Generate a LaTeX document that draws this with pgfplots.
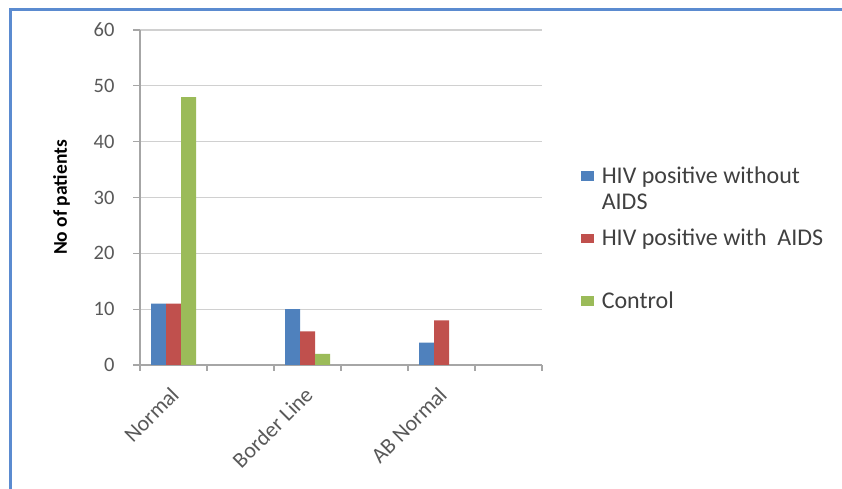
\documentclass[border=0pt]{standalone}
\usepackage{pgfplots}
\pgfplotsset{compat=1.18}
\usepackage{fontspec}
\setmainfont{Carlito}
\definecolor{sblue}{HTML}{4F81BD}
\definecolor{sred}{HTML}{C0504D}
\definecolor{sgreen}{HTML}{9BBB59}
\definecolor{frameblue}{HTML}{5B8BD0}
\definecolor{axisgray}{HTML}{A6A6A6}
\definecolor{gridgray}{HTML}{D0D0D0}
\definecolor{labgray}{HTML}{595959}
\definecolor{legtext}{HTML}{404040}
\pgfplotsset{sq legend/.style={legend image code/.code={%
  \path[fill=none, draw=none] (0pt,-31.25pt) rectangle (13pt,31.25pt);
  \fill[##1, draw=none] (0pt,2.5pt) rectangle (13pt,12pt);}}}
\begin{document}
\begin{tikzpicture}
\path[use as bounding box, fill=white] (0,0) rectangle (842pt,489pt);
\draw[line width=3pt, color=frameblue] (10pt,-3pt) -- (10pt,479pt) -- (845pt,479pt);
\begin{axis}[
  at={(140pt,124pt)}, anchor=south west,
  scale only axis, width=402pt, height=335pt,
  xmin=-0.5, xmax=5.5, ymin=0, ymax=60,
  ytick={0,10,...,60},
  xtick={0,2,4}, xticklabels={Normal,Border Line,AB Normal},
  minor xtick={-0.5,0.5,...,5.5},
  axis x line*=bottom, axis y line*=left,
  axis line style={draw=axisgray, line width=1.2pt},
  ymajorgrids, grid style={draw=gridgray, line width=1.2pt},
  major x tick style={draw=none},
  minor x tick style={draw=axisgray, line width=1.2pt},
  ytick style={draw=axisgray, line width=1.2pt},
  tick align=outside, major tick length=7pt, minor tick length=6pt,
  /pgf/number format/assume math mode=true,
  ticklabel style={text=labgray},
  yticklabel style={font=\fontsize{20.5}{22}\selectfont, xshift=-15pt},
  xticklabel style={font=\fontsize{22}{24}\selectfont, rotate=45, anchor=east, yshift=-14.5pt, xshift=-9pt},
  ylabel={\bfseries No of patients},
  ylabel style={font=\fontsize{19.5}{21}\selectfont, text=black, at={(axis description cs:-0.195,0.5)}, anchor=center},
  ybar=0pt, bar width=15pt,
  legend style={at={(1.096,0.637)}, anchor=north west, draw=none, fill=none, inner sep=0pt,
    font=\fontsize{24}{26}\selectfont, text=legtext, row sep=0pt, column sep=6pt,
    cells={anchor=base west, inner ysep=0pt}},
]
\addplot[sq legend, fill=sblue, draw=none] coordinates {(0,11) (2,10) (4,4)};
\addplot[sq legend, fill=sred, draw=none] coordinates {(0,11) (2,6) (4,8)};
\addplot[sq legend, fill=sgreen, draw=none] coordinates {(0,48) (2,2)};
\legend{{\smash{\parbox[t]{250pt}{HIV positive without\\AIDS}}},{\smash{HIV positive with\ \ AIDS}},{\smash{Control}}}
\end{axis}
\end{tikzpicture}
\end{document}
